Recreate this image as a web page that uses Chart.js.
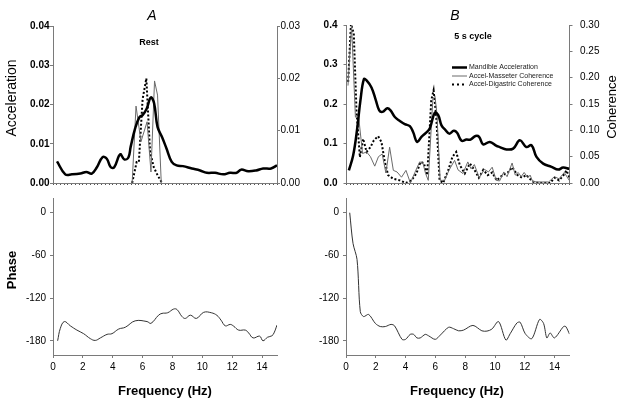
<!DOCTYPE html>
<html>
<head>
<meta charset="utf-8">
<script src="https://cdn.jsdelivr.net/npm/chart.js@4/dist/chart.umd.min.js"></script>
<style>
html, body { margin: 0; padding: 0; background: #fff; }
#wrap { position: relative; width: 623px; height: 400px; }
#wrap canvas { position: absolute; left: 0; top: 0; }
</style>
</head>
<body>
<div id="wrap">
  <canvas id="topA" width="623" height="400"></canvas>
  <canvas id="topB" width="623" height="400"></canvas>
  <canvas id="botA" width="623" height="400"></canvas>
  <canvas id="botB" width="623" height="400"></canvas>
</div>
<script>
// ---- data ----
// A: rest
const restAccFreq = [0.27,0.82,1.27,1.83,2.23,2.6,2.94,3.32,3.6,3.87,4.1,4.5,4.77,5.05,5.2,5.5,5.79,6.0,6.28,6.55,6.77,7.0,7.3,7.6,7.95,8.28,8.7,9.3,9.85,10.3,10.85,11.4,11.85,12.3,12.6,13.07,13.6,14.07,14.6,15]
const restAcc = [0.0055,0.0022,0.0022,0.0024,0.0028,0.0024,0.004,0.0066,0.0062,0.004,0.004,0.0073,0.006,0.0065,0.0092,0.0139,0.0168,0.0173,0.019,0.0218,0.0203,0.0143,0.0117,0.0088,0.0054,0.0045,0.0043,0.0037,0.0032,0.0026,0.0026,0.0022,0.0026,0.0026,0.0034,0.003,0.0032,0.0037,0.0037,0.0045]
const restMassFreq = [5.3,5.56,5.89,6.3,6.56,6.8,7.0,7.25]
const restMass = [0,0.0147,0.0079,0.0117,0.0021,0.0195,0.0168,0]
const restDigFreq = [5.3,5.6,5.75,6.0,6.25,6.5,6.75,7.0,7.3]
const restDig = [0,0.004,0.004,0.016,0.020,0.006,0.003,0.0015,0]
const restPhaseFreq = [0.31,0.49,0.76,1.16,1.6,2.05,2.5,2.83,3.17,3.62,3.95,4.4,4.84,5.5,6.3,6.56,7.07,7.3,7.68,8.08,8.3,8.64,8.86,9.2,9.6,10.09,10.6,10.98,11.25,11.54,11.87,12.1,12.43,12.88,13.1,13.4,13.84,14.06,14.37,14.66,14.8,15]
const restPhase = [-180,-162.6,-153,-159,-165,-170,-177,-179.5,-176,-171,-170,-163.5,-161,-152,-153,-155.5,-144,-141.5,-140.6,-135.4,-136,-146,-148.6,-144,-148.6,-140,-140.6,-144.3,-151,-159,-157,-159.5,-165,-165,-169,-176,-173.5,-180,-175,-173,-169,-158]

// B: 5 s cycle
const cycAccFreq = [0.16,0.45,0.72,0.94,1.17,1.35,1.68,1.97,2.2,2.42,2.74,2.96,3.25,3.59,3.92,4.26,4.48,4.75,5.04,5.34,5.6,5.94,6.17,6.39,6.66,6.9,7.22,7.44,7.74,8.07,8.34,8.68,8.92,9.19,9.64,10.09,10.31,10.76,11.21,11.66,12.1,12.44,12.78,13.23,13.79,14.24,14.57,14.98]
const cycAcc = [0.032,0.070,0.138,0.21,0.263,0.260,0.242,0.21,0.184,0.18,0.189,0.184,0.167,0.157,0.149,0.144,0.129,0.104,0.117,0.127,0.138,0.178,0.172,0.146,0.134,0.125,0.132,0.127,0.107,0.110,0.110,0.119,0.117,0.098,0.104,0.094,0.091,0.085,0.087,0.108,0.091,0.096,0.066,0.049,0.041,0.034,0.039,0.036]
const cycMassFreq = [0.1,0.34,0.6,0.8,1.08,1.35,1.61,1.9,2.15,2.4,2.65,2.9,3.15,3.4,3.7,4.0,4.3,4.6,4.92,5.14,5.32,5.5,5.81,5.95,6.08,6.3,6.6,6.89,7.27,7.5,7.83,8.16,8.38,8.6,8.93,9.27,9.55,9.8,10.07,10.3,10.58,10.8,11.14,11.35,11.55,11.75,11.95,12.2,12.35,12.52,12.8,13.2,13.6,13.98,14.3,14.65,14.98]
const cycMass = [0.185,0.30,0.125,0.13,0.056,0.059,0.05,0.032,0.05,0.055,0.019,0.068,0.024,0.021,0.011,0.024,0,0.02,0.04,0.038,0.018,0.005,0.16,0.165,0.132,0.005,0.005,0.024,0.043,0.025,0.018,0.04,0.027,0.035,0.01,0.026,0.021,0.03,0.005,0.004,0.021,0.012,0.038,0.015,0.02,0.012,0.02,0.01,0.015,0.003,0.002,0.002,0.002,0.012,0.008,0.02,0.005]
const cycDigFreq = [0.11,0.3,0.49,0.67,0.9,1.12,1.35,1.61,1.84,2.13,2.35,2.58,2.8,3.14,3.59,4.0,4.37,4.7,4.98,5.2,5.43,5.7,5.86,6.04,6.26,6.5,6.84,7.13,7.38,7.62,7.96,8.3,8.6,8.9,9.2,9.5,9.8,10.1,10.5,10.85,11.15,11.5,11.8,12.1,12.5,12.9,13.3,13.7,14.0,14.3,14.6,14.8,15.0]
const cycDig = [0.192,0.302,0.284,0.138,0.049,0.084,0.059,0.068,0.081,0.089,0.078,0.04,0.015,0.008,0.005,0,0.005,0.018,0.04,0.038,0.015,0.157,0.176,0.125,0.005,0,0.024,0.05,0.059,0.034,0.018,0.037,0.025,0.01,0.025,0.015,0.02,0.005,0.015,0.02,0.03,0.015,0.01,0.015,0.003,0,0,0,0.01,0.005,0.015,0.024,0.01]
const cycPhaseFreq = [0.25,0.47,0.74,0.96,1.18,1.52,1.97,2.3,2.64,3.02,3.26,3.76,4.0,4.31,4.54,4.76,4.98,5.32,5.54,5.99,6.33,6.89,7.22,7.56,7.89,8.52,9.12,9.46,9.79,10.24,10.73,11.02,11.47,11.69,12.03,12.47,12.99,13.26,13.48,13.7,13.99,14.6,14.75,15]
const cycPhase = [0,-43,-65.6,-139,-146,-143,-155.6,-160,-160,-157,-159,-178,-178,-171,-171,-176,-176,-171,-173,-178,-172,-161,-163,-166,-165,-158.4,-166,-166.4,-163.6,-153,-179,-170,-155,-154,-170,-177,-150,-155.6,-176,-169,-176,-160,-160,-170.6]

const seriesNames = ['Mandible Acceleration', 'Accel-Masseter Coherence', 'Accel-Digastric Coherence']
const freqTicks = [0, 2, 4, 6, 8, 10, 12, 14]
const phaseTicks = [-180, -120, -60, 0]
const minorTicks = Array.from({ length: 61 }, (_, i) => i * 0.25)

// ---- helpers ----
const FONT = 'Arial, "Liberation Sans", sans-serif'
const axisGrey = '#7a7a7a'

const pts = (xs, ys) => xs.map((x, i) => ({ x: x, y: ys[i] }))

const textPlugin = {
	id: 'texts',
	afterDraw(chart, args, opts) {
		const ctx = chart.ctx
		;(opts.items || []).forEach((t) => {
			ctx.save()
			ctx.font = t.font
			ctx.fillStyle = '#000'
			ctx.textAlign = t.align || 'center'
			ctx.textBaseline = 'middle'
			ctx.translate(t.x, t.y)
			if (t.rot) ctx.rotate(t.rot)
			ctx.fillText(t.text, 0, 0)
			ctx.restore()
		})
	}
}

const legendPlugin = {
	id: 'miniLegend',
	afterDraw(chart, args, opts) {
		if (!opts.show) return
		const ctx = chart.ctx
		chart.data.datasets.forEach((ds, i) => {
			const y = opts.y + i * opts.gap
			ctx.save()
			ctx.strokeStyle = ds.borderColor
			ctx.lineWidth = ds.borderWidth
			ctx.setLineDash(ds.borderDash ? [2, 3] : [])
			ctx.beginPath()
			ctx.moveTo(opts.x, y)
			ctx.lineTo(opts.x + 15, y)
			ctx.stroke()
			ctx.setLineDash([])
			ctx.font = '7px ' + FONT
			ctx.fillStyle = '#222'
			ctx.textAlign = 'left'
			ctx.textBaseline = 'middle'
			ctx.fillText(ds.label, opts.x + 17, y)
			ctx.restore()
		})
	}
}

const xTop = {
	type: 'linear', min: 0, max: 15,
	afterBuildTicks: (s) => { s.ticks = minorTicks.map((v) => ({ value: v })) },
	afterFit: (s) => { s.height = 10 },
	ticks: { display: false },
	grid: { drawOnChartArea: false, tickLength: 2, color: '#555' },
	border: { color: axisGrey }
}

const xBottom = {
	type: 'linear', min: 0, max: 15,
	afterBuildTicks: (s) => { s.ticks = freqTicks.map((v) => ({ value: v })) },
	afterFit: (s) => { s.height = 30 },
	ticks: { color: '#000', font: { family: FONT, size: 10 }, padding: 3 },
	grid: { drawOnChartArea: false, tickLength: 3, color: axisGrey },
	border: { color: axisGrey }
}

const yLin = (pos, max, step, digits, bold, pad) => ({
	type: 'linear', position: pos, min: 0, max: max,
	afterFit: (s) => { s.width = 50 },
	ticks: {
		stepSize: step, padding: pad, color: '#000',
		font: { family: FONT, size: 10, weight: bold ? 'bold' : 'normal' },
		callback: (v) => v.toFixed(digits)
	},
	grid: { drawOnChartArea: false, tickLength: 3, color: axisGrey },
	border: { color: axisGrey }
})

const yPhase = {
	type: 'linear', min: -200, max: 20,
	afterBuildTicks: (s) => { s.ticks = phaseTicks.map((v) => ({ value: v })) },
	afterFit: (s) => { s.width = 50 },
	ticks: { color: '#000', padding: 4, font: { family: FONT, size: 10 }, callback: (v) => String(v) },
	grid: { drawOnChartArea: false, tickLength: 3, color: axisGrey },
	border: { color: axisGrey }
}

const baseOptions = (padding, scales, texts, legend) => ({
	responsive: false,
	animation: false,
	devicePixelRatio: 1,
	events: [],
	layout: { padding: padding },
	elements: { point: { radius: 0 } },
	scales: scales,
	plugins: {
		legend: { display: false },
		tooltip: { enabled: false },
		texts: { items: texts },
		miniLegend: legend || { show: false }
	}
})

const coherenceSets = (acc, mass, dig) => [
	{ label: seriesNames[0], data: acc, yAxisID: 'yAcc', borderColor: '#000', borderWidth: 2.5, tension: 0.4 },
	{ label: seriesNames[1], data: mass, yAxisID: 'yCoh', borderColor: '#6a6a6a', borderWidth: 1, tension: 0 },
	{ label: seriesNames[2], data: dig, yAxisID: 'yCoh', borderColor: '#000', borderWidth: 2, borderDash: [2, 2], tension: 0 }
]

// ---- top A ----
new Chart(document.querySelector('#topA').getContext('2d'), {
	type: 'line',
	data: { datasets: coherenceSets(pts(restAccFreq, restAcc), pts(restMassFreq, restMass), pts(restDigFreq, restDig)) },
	options: baseOptions(
		{ left: 3, right: 296, top: 26, bottom: 207 },
		{ x: xTop, yAcc: yLin('left', 0.04, 0.01, 2, true, 0.5), yCoh: yLin('right', 0.03, 0.01, 2, false, 0.5) },
		[
			{ text: 'A', x: 152, y: 16, font: 'italic 14px ' + FONT },
			{ text: 'Rest', x: 149, y: 43, font: 'bold 9px ' + FONT },
			{ text: 'Acceleration', x: 12, y: 98, rot: -Math.PI / 2, font: '14px ' + FONT }
		]
	),
	plugins: [textPlugin, legendPlugin]
})

// ---- top B ----
new Chart(document.querySelector('#topB').getContext('2d'), {
	type: 'line',
	data: { datasets: coherenceSets(pts(cycAccFreq, cycAcc), pts(cycMassFreq, cycMass), pts(cycDigFreq, cycDig)) },
	options: baseOptions(
		{ left: 296.5, right: 3.5, top: 25, bottom: 207 },
		{ x: xTop, yAcc: yLin('left', 0.4, 0.1, 1, true, 6), yCoh: yLin('right', 0.3, 0.05, 2, false, 7.5) },
		[
			{ text: 'B', x: 455, y: 16, font: 'italic 14px ' + FONT },
			{ text: '5 s cycle', x: 473, y: 37, font: 'bold 9px ' + FONT },
			{ text: 'Coherence', x: 612, y: 107, rot: -Math.PI / 2, font: '13px ' + FONT }
		],
		{ show: true, x: 452, y: 67.5, gap: 8.5 }
	),
	plugins: [textPlugin, legendPlugin]
})

// ---- bottom A ----
new Chart(document.querySelector('#botA').getContext('2d'), {
	type: 'line',
	data: { datasets: [{ label: 'Phase', data: pts(restPhaseFreq, restPhase), borderColor: '#333', borderWidth: 1, tension: 0.4 }] },
	options: baseOptions(
		{ left: 3, right: 346, top: 198.5, bottom: 15 },
		{ x: xBottom, y: yPhase },
		[
			{ text: 'Phase', x: 12, y: 270, rot: -Math.PI / 2, font: 'bold 13px ' + FONT },
			{ text: 'Frequency (Hz)', x: 165, y: 391, font: 'bold 13px ' + FONT }
		]
	),
	plugins: [textPlugin, legendPlugin]
})

// ---- bottom B ----
new Chart(document.querySelector('#botB').getContext('2d'), {
	type: 'line',
	data: { datasets: [{ label: 'Phase', data: pts(cycPhaseFreq, cycPhase), borderColor: '#333', borderWidth: 1, tension: 0.3 }] },
	options: baseOptions(
		{ left: 296, right: 53.5, top: 198.5, bottom: 15 },
		{ x: xBottom, y: yPhase },
		[
			{ text: 'Frequency (Hz)', x: 457, y: 391, font: 'bold 13px ' + FONT }
		]
	),
	plugins: [textPlugin, legendPlugin]
})
</script>
</body>
</html>
